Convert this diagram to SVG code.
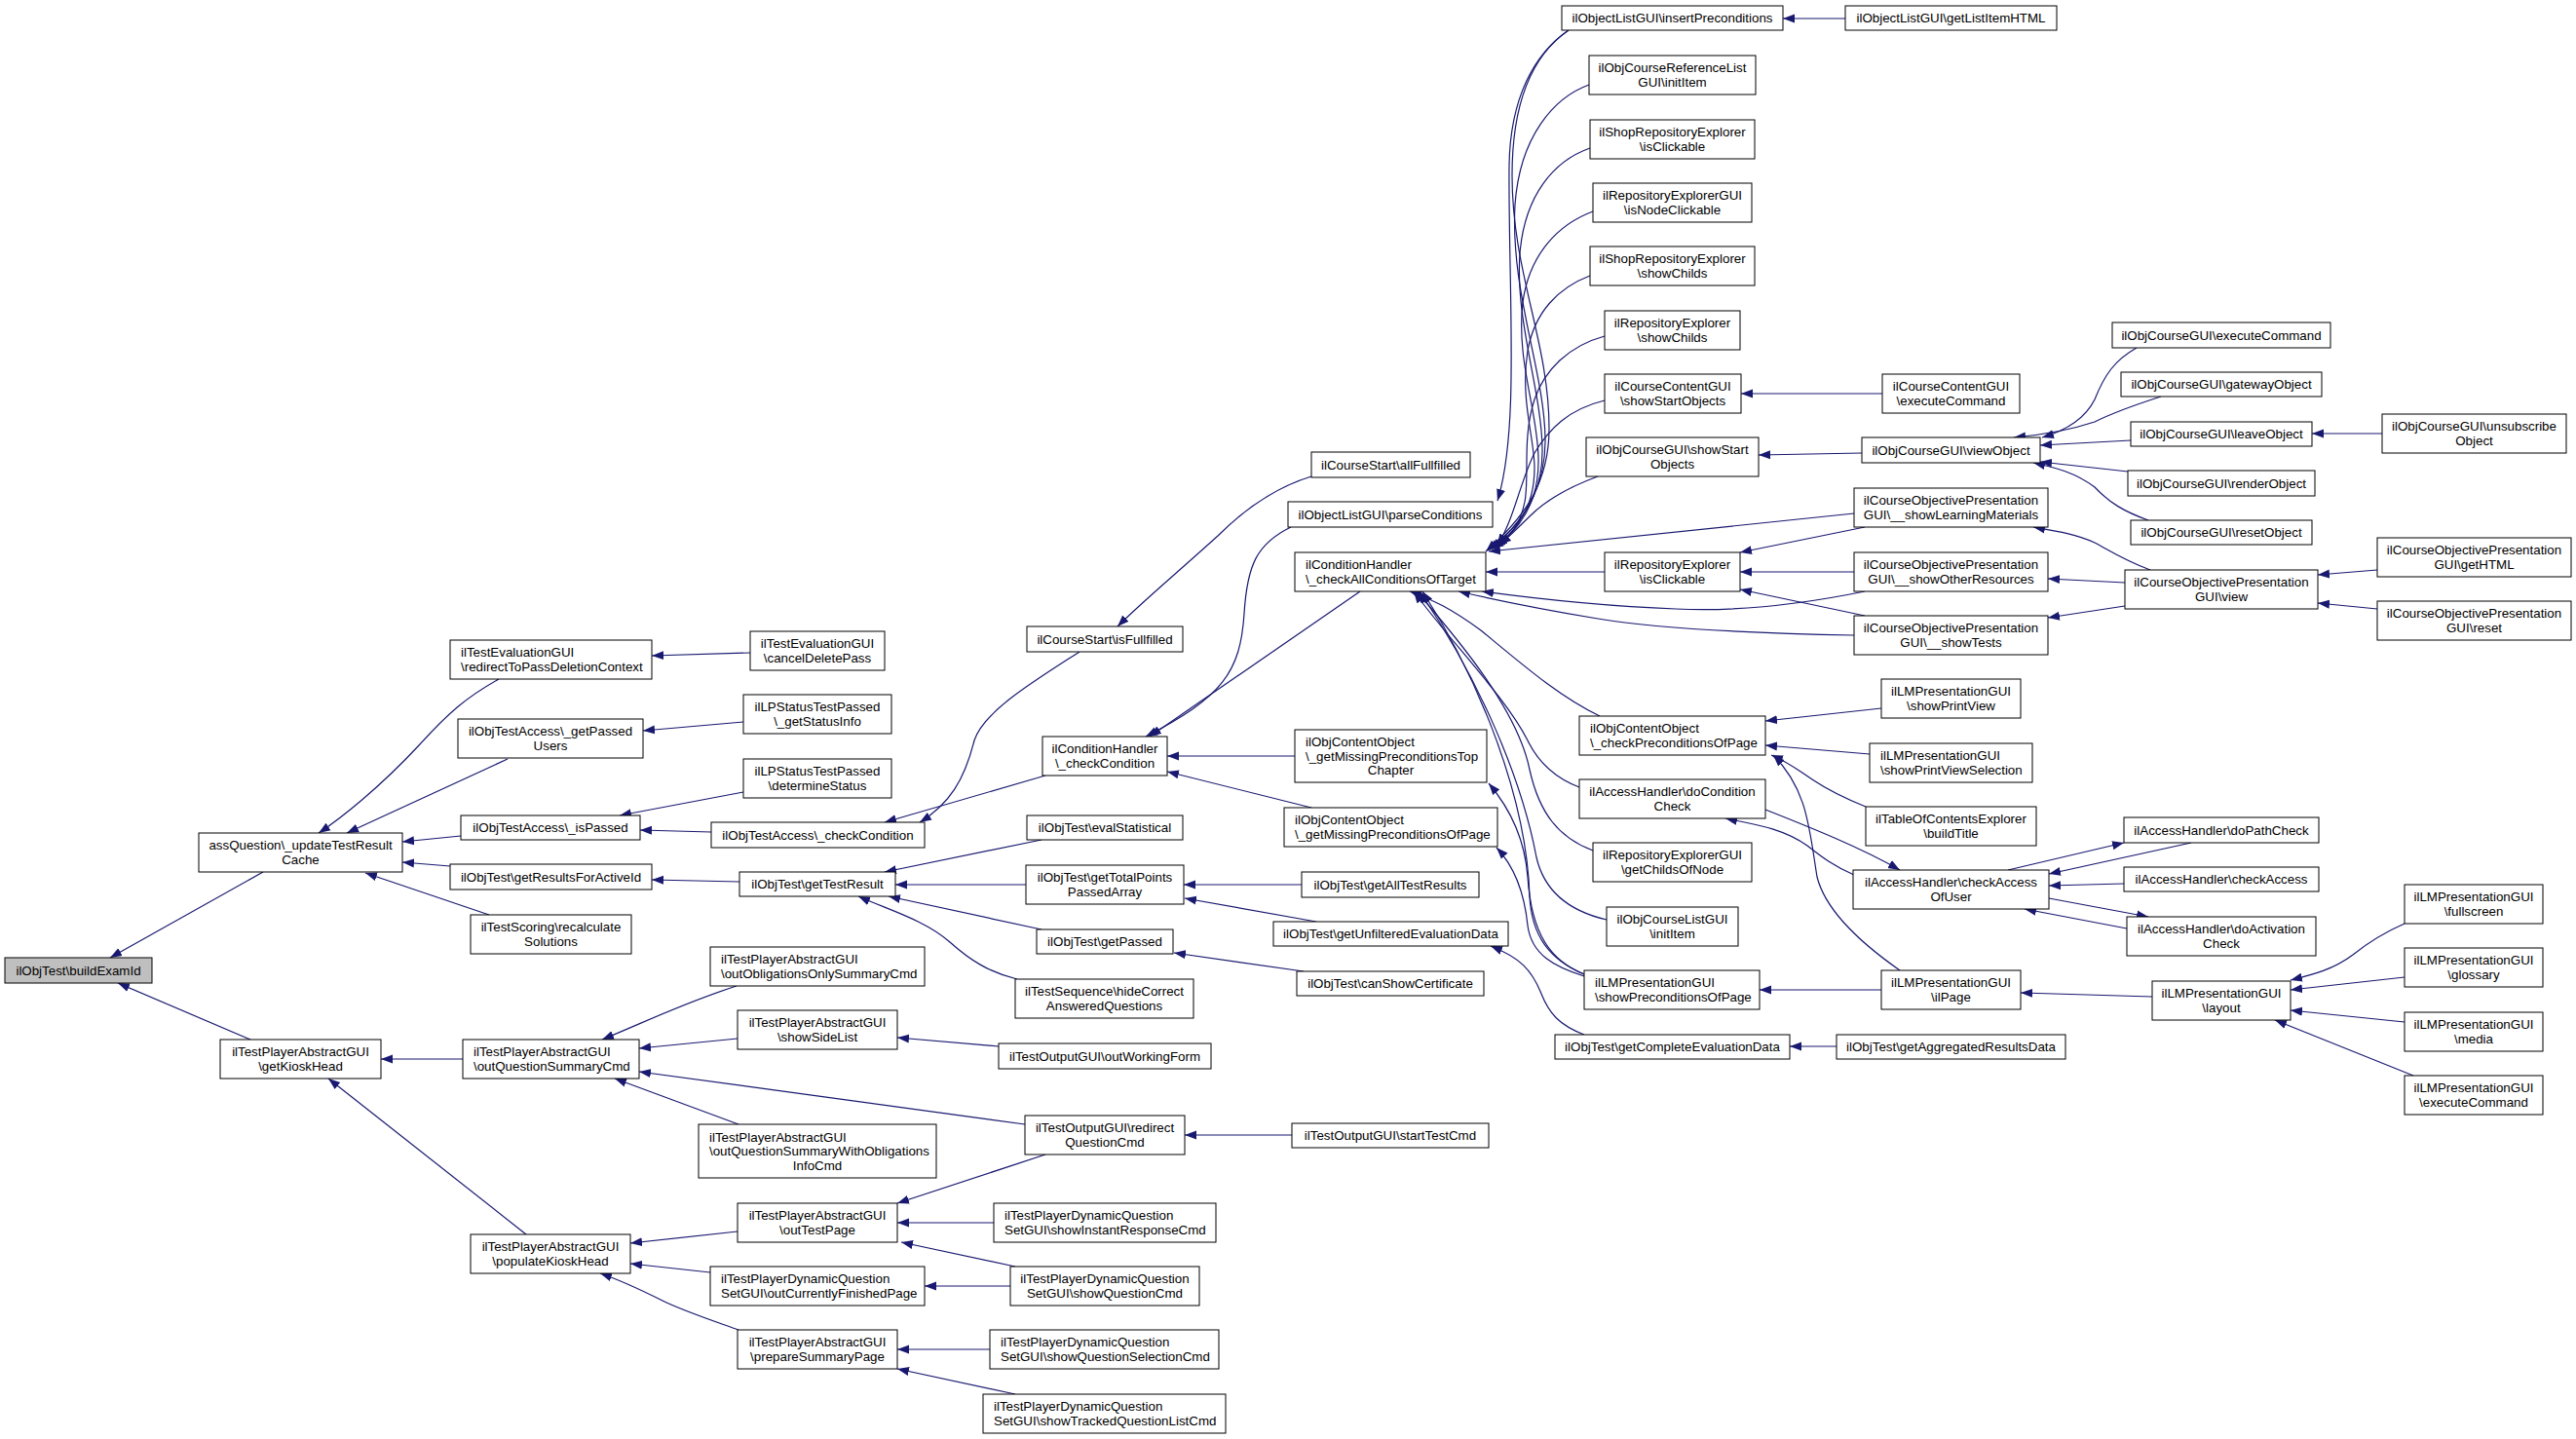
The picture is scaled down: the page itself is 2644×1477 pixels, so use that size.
<svg xmlns="http://www.w3.org/2000/svg" width="2644" height="1477" viewBox="0 0 2644 1477">
<style>
.node rect{fill:#fff;stroke:#000;stroke-width:1}
.root rect{fill:#bfbfbf}
text{font-family:"Liberation Sans",Arial,Helvetica,sans-serif;font-size:13.33px;fill:#000}
.c{text-anchor:middle}
#edges path{fill:none;stroke:#191970;stroke-width:1.2;marker-end:url(#ah)}
</style>
<defs>
<marker id="ah" markerUnits="userSpaceOnUse" markerWidth="12" markerHeight="10" refX="12" refY="5" orient="auto" viewBox="0 0 12 10"><path d="M0,0.5 L12,5 L0,9.5 z" fill="#191970"/></marker>
</defs>
<rect width="2644" height="1477" fill="#fff"/>
<g id="edges">
<path d="M270,895 L113,983"/>
<path d="M257,1067 L121,1009"/>
<path d="M512,697 C478,716 460,732 430,765 C390,808 350,840 327,855"/>
<path d="M521,779 L356,855"/>
<path d="M473,858 L413,864"/>
<path d="M462,889 L413,885"/>
<path d="M502,939 L375,896"/>
<path d="M475,1087 L391,1087"/>
<path d="M540,1267 L337,1107"/>
<path d="M770,670 L669,673"/>
<path d="M763,741 L660,750"/>
<path d="M763,813 L636,837"/>
<path d="M730,854 L657,852"/>
<path d="M759,905 L669,903"/>
<path d="M1108,669 C1060,700 1010,730 1000,760 C990,800 975,825 944,844"/>
<path d="M1073,796 L908,844"/>
<path d="M1346,489 C1310,500 1280,520 1250,550 C1200,595 1170,620 1147,643"/>
<path d="M1325,541 C1290,558 1280,580 1277,630 C1273,690 1255,715 1176,756"/>
<path d="M1396,607 L1180,756"/>
<path d="M1329,776 L1198,776"/>
<path d="M1346,829 L1198,792"/>
<path d="M1069,862 L908,895"/>
<path d="M1053,908 L919,908"/>
<path d="M1069,954 L912,920"/>
<path d="M1044,1005 C1015,998 995,985 975,967 C950,945 915,935 881,920"/>
<path d="M1336,908 L1215,908"/>
<path d="M1351,946 L1216,922"/>
<path d="M1338,997 L1205,978"/>
<path d="M1626,1062 C1600,1052 1590,1040 1582,1020 C1572,995 1560,983 1530,971"/>
<path d="M756,1012 C700,1030 660,1050 618,1067"/>
<path d="M757,1066 L656,1076"/>
<path d="M1052,1154 L656,1100"/>
<path d="M758,1154 L631,1107"/>
<path d="M1025,1074 L921,1065"/>
<path d="M1326,1165 L1216,1165"/>
<path d="M757,1264 L647,1276"/>
<path d="M729,1306 L647,1297"/>
<path d="M758,1365 C730,1355 700,1345 680,1335 C660,1325 640,1315 616,1307"/>
<path d="M1073,1185 L921,1235"/>
<path d="M1020,1255 L921,1255"/>
<path d="M1042,1300 L925,1275"/>
<path d="M1037,1320 L949,1320"/>
<path d="M1016,1385 L921,1385"/>
<path d="M1042,1431 L921,1405"/>
<path d="M1894,19 L1830,19"/>
<path d="M1610,31 C1575,55 1550,100 1549,170 C1548,300 1560,440 1537,514"/>
<path d="M1610,31 C1575,55 1552,100 1552,180 C1552,280 1590,350 1590,440 C1590,500 1560,535 1525,566"/>
<path d="M1631,87 C1595,100 1560,140 1555,210 C1550,300 1585,380 1586,450 C1587,505 1560,540 1527,565"/>
<path d="M1632,152 C1595,165 1565,200 1560,260 C1555,330 1582,400 1583,460 C1584,510 1560,540 1529,564"/>
<path d="M1635,217 C1600,230 1570,260 1563,310 C1556,370 1578,420 1579,470 C1580,515 1560,545 1531,563"/>
<path d="M1632,283 C1600,295 1575,320 1568,360 C1560,410 1575,450 1575,480 C1575,520 1558,545 1533,562"/>
<path d="M1647,345 C1610,355 1585,380 1575,410 C1562,450 1570,490 1565,515 C1560,540 1550,550 1535,561"/>
<path d="M1647,411 C1610,420 1590,440 1575,465 C1560,495 1555,530 1537,560"/>
<path d="M1640,489 C1610,500 1585,515 1570,530 C1558,542 1550,550 1539,559"/>
<path d="M1903,527 L1528,566"/>
<path d="M1647,587 L1525,587"/>
<path d="M1914,607 C1850,620 1780,628 1720,625 C1640,622 1580,615 1521,607"/>
<path d="M1903,652 C1800,650 1700,645 1640,635 C1580,625 1540,617 1497,607"/>
<path d="M1642,735 C1600,715 1560,680 1520,647 C1490,625 1470,615 1447,607"/>
<path d="M1621,808 C1600,800 1580,785 1568,760 C1545,715 1490,660 1451,607"/>
<path d="M1635,873 C1600,860 1580,835 1570,790 C1558,730 1500,660 1454,607"/>
<path d="M1649,944 C1610,935 1585,915 1577,880 C1562,800 1520,700 1457,607"/>
<path d="M1626,1000 C1590,985 1572,960 1570,920 C1567,820 1520,700 1460,607"/>
<path d="M1626,1000 C1592,986 1572,960 1568,900 C1565,860 1550,830 1528,804"/>
<path d="M1626,1002 C1595,992 1572,980 1568,950 C1565,920 1555,890 1536,870"/>
<path d="M1911,465 L1805,467"/>
<path d="M1932,404 L1787,404"/>
<path d="M2193,357 C2170,370 2160,385 2150,410 C2140,430 2120,442 2096,449"/>
<path d="M2218,407 C2190,416 2170,423 2150,433 C2120,443 2090,447 2067,449"/>
<path d="M2187,452 L2094,457"/>
<path d="M2184,484 L2094,474"/>
<path d="M2205,534 C2180,525 2165,516 2150,500 C2130,485 2110,480 2087,475"/>
<path d="M2445,445 L2373,445"/>
<path d="M2207,585 C2180,575 2165,565 2150,557 C2130,548 2110,545 2087,541"/>
<path d="M2181,598 L2102,594"/>
<path d="M2181,622 L2102,634"/>
<path d="M2440,585 L2379,590"/>
<path d="M2440,625 L2379,619"/>
<path d="M1914,541 L1786,567"/>
<path d="M1903,587 L1786,587"/>
<path d="M1914,632 L1786,605"/>
<path d="M1931,727 L1812,740"/>
<path d="M1919,774 L1812,765"/>
<path d="M1915,828 C1890,818 1875,810 1860,800 C1845,790 1835,782 1818,775"/>
<path d="M1950,996 C1920,975 1875,940 1865,900 C1857,850 1855,810 1820,775"/>
<path d="M1903,898 C1880,888 1868,878 1855,868 C1830,850 1800,846 1771,840"/>
<path d="M1812,831 C1860,850 1910,870 1950,893"/>
<path d="M2061,893 L2180,865"/>
<path d="M2249,865 L2103,897"/>
<path d="M2180,907 L2103,909"/>
<path d="M2103,922 L2205,941"/>
<path d="M2183,953 L2078,933"/>
<path d="M1931,1016 L1806,1016"/>
<path d="M1885,1074 L1837,1074"/>
<path d="M2209,1023 L2074,1019"/>
<path d="M2468,948 C2445,958 2430,968 2415,980 C2395,995 2375,1000 2351,1006"/>
<path d="M2468,1003 L2351,1016"/>
<path d="M2468,1049 L2351,1037"/>
<path d="M2477,1104 L2335,1047"/>
</g>
<g id="n1" class="node root"><rect x="5" y="983" width="151" height="26"/><text class="c" x="80.5" y="1000.7">ilObjTest\buildExamId</text></g>
<g id="n2" class="node"><rect x="204" y="855" width="209" height="40"/><text class="c" x="308.5" y="872.45">assQuestion\_updateTestResult</text><text class="c" x="308.5" y="886.95">Cache</text></g>
<g id="n3" class="node"><rect x="462" y="657" width="207" height="40"/><text x="473" y="674.45">ilTestEvaluationGUI</text><text x="473" y="688.95">\redirectToPassDeletionContext</text></g>
<g id="n4" class="node"><rect x="470" y="738" width="190" height="40"/><text class="c" x="565" y="755.45">ilObjTestAccess\_getPassed</text><text class="c" x="565" y="769.95">Users</text></g>
<g id="n5" class="node"><rect x="473" y="837" width="184" height="25"/><text class="c" x="565" y="854.2">ilObjTestAccess\_isPassed</text></g>
<g id="n6" class="node"><rect x="462" y="887" width="207" height="26"/><text class="c" x="565.5" y="904.7">ilObjTest\getResultsForActiveId</text></g>
<g id="n7" class="node"><rect x="483" y="939" width="165" height="40"/><text class="c" x="565.5" y="956.45">ilTestScoring\recalculate</text><text class="c" x="565.5" y="970.95">Solutions</text></g>
<g id="n8" class="node"><rect x="226" y="1067" width="165" height="40"/><text class="c" x="308.5" y="1084.45">ilTestPlayerAbstractGUI</text><text class="c" x="308.5" y="1098.95">\getKioskHead</text></g>
<g id="n9" class="node"><rect x="475" y="1067" width="181" height="40"/><text x="486" y="1084.45">ilTestPlayerAbstractGUI</text><text x="486" y="1098.95">\outQuestionSummaryCmd</text></g>
<g id="n10" class="node"><rect x="483" y="1267" width="164" height="40"/><text class="c" x="565" y="1284.45">ilTestPlayerAbstractGUI</text><text class="c" x="565" y="1298.95">\populateKioskHead</text></g>
<g id="n11" class="node"><rect x="770" y="648" width="138" height="40"/><text class="c" x="839" y="665.45">ilTestEvaluationGUI</text><text class="c" x="839" y="679.95">\cancelDeletePass</text></g>
<g id="n12" class="node"><rect x="763" y="713" width="152" height="40"/><text class="c" x="839" y="730.45">ilLPStatusTestPassed</text><text class="c" x="839" y="744.95">\_getStatusInfo</text></g>
<g id="n13" class="node"><rect x="763" y="779" width="152" height="40"/><text class="c" x="839" y="796.45">ilLPStatusTestPassed</text><text class="c" x="839" y="810.95">\determineStatus</text></g>
<g id="n14" class="node"><rect x="730" y="844" width="219" height="26"/><text class="c" x="839.5" y="861.7">ilObjTestAccess\_checkCondition</text></g>
<g id="n15" class="node"><rect x="759" y="895" width="160" height="25"/><text class="c" x="839" y="912.2">ilObjTest\getTestResult</text></g>
<g id="n16" class="node"><rect x="729" y="972" width="220" height="40"/><text x="740" y="989.45">ilTestPlayerAbstractGUI</text><text x="740" y="1003.95">\outObligationsOnlySummaryCmd</text></g>
<g id="n17" class="node"><rect x="1054" y="643" width="160" height="26"/><text class="c" x="1134" y="660.7">ilCourseStart\isFullfilled</text></g>
<g id="n18" class="node"><rect x="1070" y="756" width="128" height="40"/><text class="c" x="1134" y="773.45">ilConditionHandler</text><text class="c" x="1134" y="787.95">\_checkCondition</text></g>
<g id="n19" class="node"><rect x="1054" y="837" width="160" height="25"/><text class="c" x="1134" y="854.2">ilObjTest\evalStatistical</text></g>
<g id="n20" class="node"><rect x="1053" y="888" width="162" height="40"/><text class="c" x="1134" y="905.45">ilObjTest\getTotalPoints</text><text class="c" x="1134" y="919.95">PassedArray</text></g>
<g id="n21" class="node"><rect x="1064" y="954" width="140" height="25"/><text class="c" x="1134" y="971.2">ilObjTest\getPassed</text></g>
<g id="n22" class="node"><rect x="1042" y="1005" width="183" height="40"/><text class="c" x="1133.5" y="1022.45">ilTestSequence\hideCorrect</text><text class="c" x="1133.5" y="1036.95">AnsweredQuestions</text></g>
<g id="n23" class="node"><rect x="757" y="1037" width="164" height="40"/><text class="c" x="839" y="1054.45">ilTestPlayerAbstractGUI</text><text class="c" x="839" y="1068.95">\showSideList</text></g>
<g id="n24" class="node"><rect x="1025" y="1071" width="218" height="26"/><text class="c" x="1134" y="1088.7">ilTestOutputGUI\outWorkingForm</text></g>
<g id="n25" class="node"><rect x="717" y="1154" width="244" height="55"/><text x="728" y="1171.7">ilTestPlayerAbstractGUI</text><text x="728" y="1186.2">\outQuestionSummaryWithObligations</text><text class="c" x="839" y="1200.7">InfoCmd</text></g>
<g id="n26" class="node"><rect x="1052" y="1145" width="164" height="40"/><text class="c" x="1134" y="1162.45">ilTestOutputGUI\redirect</text><text class="c" x="1134" y="1176.95">QuestionCmd</text></g>
<g id="n27" class="node"><rect x="757" y="1235" width="164" height="40"/><text class="c" x="839" y="1252.45">ilTestPlayerAbstractGUI</text><text class="c" x="839" y="1266.95">\outTestPage</text></g>
<g id="n28" class="node"><rect x="1020" y="1235" width="228" height="40"/><text x="1031" y="1252.45">ilTestPlayerDynamicQuestion</text><text x="1031" y="1266.95">SetGUI\showInstantResponseCmd</text></g>
<g id="n29" class="node"><rect x="729" y="1300" width="220" height="40"/><text x="740" y="1317.45">ilTestPlayerDynamicQuestion</text><text x="740" y="1331.95">SetGUI\outCurrentlyFinishedPage</text></g>
<g id="n30" class="node"><rect x="1037" y="1300" width="194" height="40"/><text class="c" x="1134" y="1317.45">ilTestPlayerDynamicQuestion</text><text class="c" x="1134" y="1331.95">SetGUI\showQuestionCmd</text></g>
<g id="n31" class="node"><rect x="757" y="1365" width="164" height="40"/><text class="c" x="839" y="1382.45">ilTestPlayerAbstractGUI</text><text class="c" x="839" y="1396.95">\prepareSummaryPage</text></g>
<g id="n32" class="node"><rect x="1016" y="1365" width="235" height="40"/><text x="1027" y="1382.45">ilTestPlayerDynamicQuestion</text><text x="1027" y="1396.95">SetGUI\showQuestionSelectionCmd</text></g>
<g id="n33" class="node"><rect x="1009" y="1431" width="249" height="40"/><text x="1020" y="1448.45">ilTestPlayerDynamicQuestion</text><text x="1020" y="1462.95">SetGUI\showTrackedQuestionListCmd</text></g>
<g id="n34" class="node"><rect x="1603" y="6" width="227" height="25"/><text class="c" x="1716.5" y="23.2">ilObjectListGUI\insertPreconditions</text></g>
<g id="n35" class="node"><rect x="1894" y="6" width="217" height="25"/><text class="c" x="2002.5" y="23.2">ilObjectListGUI\getListItemHTML</text></g>
<g id="n36" class="node"><rect x="1631" y="57" width="171" height="40"/><text class="c" x="1716.5" y="74.45">ilObjCourseReferenceList</text><text class="c" x="1716.5" y="88.95">GUI\initItem</text></g>
<g id="n37" class="node"><rect x="1632" y="123" width="169" height="40"/><text class="c" x="1716.5" y="140.45">ilShopRepositoryExplorer</text><text class="c" x="1716.5" y="154.95">\isClickable</text></g>
<g id="n38" class="node"><rect x="1635" y="188" width="163" height="40"/><text class="c" x="1716.5" y="205.45">ilRepositoryExplorerGUI</text><text class="c" x="1716.5" y="219.95">\isNodeClickable</text></g>
<g id="n39" class="node"><rect x="1632" y="253" width="169" height="40"/><text class="c" x="1716.5" y="270.45">ilShopRepositoryExplorer</text><text class="c" x="1716.5" y="284.95">\showChilds</text></g>
<g id="n40" class="node"><rect x="1647" y="319" width="139" height="40"/><text class="c" x="1716.5" y="336.45">ilRepositoryExplorer</text><text class="c" x="1716.5" y="350.95">\showChilds</text></g>
<g id="n41" class="node"><rect x="1647" y="384" width="140" height="40"/><text class="c" x="1717" y="401.45">ilCourseContentGUI</text><text class="c" x="1717" y="415.95">\showStartObjects</text></g>
<g id="n42" class="node"><rect x="1628" y="449" width="177" height="40"/><text class="c" x="1716.5" y="466.45">ilObjCourseGUI\showStart</text><text class="c" x="1716.5" y="480.95">Objects</text></g>
<g id="n43" class="node"><rect x="1346" y="464" width="163" height="26"/><text class="c" x="1427.5" y="481.7">ilCourseStart\allFullfilled</text></g>
<g id="n44" class="node"><rect x="1932" y="384" width="141" height="40"/><text class="c" x="2002.5" y="401.45">ilCourseContentGUI</text><text class="c" x="2002.5" y="415.95">\executeCommand</text></g>
<g id="n45" class="node"><rect x="1911" y="449" width="183" height="26"/><text class="c" x="2002.5" y="466.7">ilObjCourseGUI\viewObject</text></g>
<g id="n46" class="node"><rect x="1322" y="515" width="210" height="26"/><text class="c" x="1427" y="532.7">ilObjectListGUI\parseConditions</text></g>
<g id="n47" class="node"><rect x="1329" y="567" width="196" height="40"/><text x="1340" y="584.45">ilConditionHandler</text><text x="1340" y="598.95">\_checkAllConditionsOfTarget</text></g>
<g id="n48" class="node"><rect x="1647" y="567" width="139" height="40"/><text class="c" x="1716.5" y="584.45">ilRepositoryExplorer</text><text class="c" x="1716.5" y="598.95">\isClickable</text></g>
<g id="n49" class="node"><rect x="1903" y="501" width="199" height="40"/><text class="c" x="2002.5" y="518.45">ilCourseObjectivePresentation</text><text class="c" x="2002.5" y="532.95">GUI\__showLearningMaterials</text></g>
<g id="n50" class="node"><rect x="1903" y="567" width="199" height="40"/><text class="c" x="2002.5" y="584.45">ilCourseObjectivePresentation</text><text class="c" x="2002.5" y="598.95">GUI\__showOtherResources</text></g>
<g id="n51" class="node"><rect x="1903" y="632" width="199" height="40"/><text class="c" x="2002.5" y="649.45">ilCourseObjectivePresentation</text><text class="c" x="2002.5" y="663.95">GUI\__showTests</text></g>
<g id="n52" class="node"><rect x="1931" y="697" width="143" height="40"/><text class="c" x="2002.5" y="714.45">ilLMPresentationGUI</text><text class="c" x="2002.5" y="728.95">\showPrintView</text></g>
<g id="n53" class="node"><rect x="1919" y="763" width="167" height="40"/><text x="1930" y="780.45">ilLMPresentationGUI</text><text x="1930" y="794.95">\showPrintViewSelection</text></g>
<g id="n54" class="node"><rect x="1915" y="828" width="175" height="40"/><text class="c" x="2002.5" y="845.45">ilTableOfContentsExplorer</text><text class="c" x="2002.5" y="859.95">\buildTitle</text></g>
<g id="n55" class="node"><rect x="1902" y="893" width="201" height="40"/><text class="c" x="2002.5" y="910.45">ilAccessHandler\checkAccess</text><text class="c" x="2002.5" y="924.95">OfUser</text></g>
<g id="n56" class="node"><rect x="1621" y="735" width="191" height="40"/><text x="1632" y="752.45">ilObjContentObject</text><text x="1632" y="766.95">\_checkPreconditionsOfPage</text></g>
<g id="n57" class="node"><rect x="1621" y="800" width="191" height="40"/><text class="c" x="1716.5" y="817.45">ilAccessHandler\doCondition</text><text class="c" x="1716.5" y="831.95">Check</text></g>
<g id="n58" class="node"><rect x="1635" y="865" width="163" height="40"/><text class="c" x="1716.5" y="882.45">ilRepositoryExplorerGUI</text><text class="c" x="1716.5" y="896.95">\getChildsOfNode</text></g>
<g id="n59" class="node"><rect x="1649" y="931" width="135" height="40"/><text class="c" x="1716.5" y="948.45">ilObjCourseListGUI</text><text class="c" x="1716.5" y="962.95">\initItem</text></g>
<g id="n60" class="node"><rect x="1329" y="749" width="197" height="54"/><text x="1340" y="766.2">ilObjContentObject</text><text x="1340" y="780.7">\_getMissingPreconditionsTop</text><text class="c" x="1427.5" y="795.2">Chapter</text></g>
<g id="n61" class="node"><rect x="1318" y="829" width="219" height="40"/><text x="1329" y="846.45">ilObjContentObject</text><text x="1329" y="860.95">\_getMissingPreconditionsOfPage</text></g>
<g id="n62" class="node"><rect x="1336" y="895" width="182" height="26"/><text class="c" x="1427" y="912.7">ilObjTest\getAllTestResults</text></g>
<g id="n63" class="node"><rect x="1307" y="946" width="241" height="25"/><text class="c" x="1427.5" y="963.2">ilObjTest\getUnfilteredEvaluationData</text></g>
<g id="n64" class="node"><rect x="1331" y="997" width="192" height="25"/><text class="c" x="1427" y="1014.2">ilObjTest\canShowCertificate</text></g>
<g id="n65" class="node"><rect x="1626" y="996" width="180" height="40"/><text x="1637" y="1013.45">ilLMPresentationGUI</text><text x="1637" y="1027.95">\showPreconditionsOfPage</text></g>
<g id="n66" class="node"><rect x="1596" y="1062" width="241" height="25"/><text class="c" x="1716.5" y="1079.2">ilObjTest\getCompleteEvaluationData</text></g>
<g id="n67" class="node"><rect x="1885" y="1062" width="235" height="25"/><text class="c" x="2002.5" y="1079.2">ilObjTest\getAggregatedResultsData</text></g>
<g id="n68" class="node"><rect x="1326" y="1153" width="202" height="25"/><text class="c" x="1427" y="1170.2">ilTestOutputGUI\startTestCmd</text></g>
<g id="n69" class="node"><rect x="1931" y="996" width="143" height="40"/><text class="c" x="2002.5" y="1013.45">ilLMPresentationGUI</text><text class="c" x="2002.5" y="1027.95">\ilPage</text></g>
<g id="n70" class="node"><rect x="2168" y="331" width="224" height="26"/><text class="c" x="2280" y="348.7">ilObjCourseGUI\executeCommand</text></g>
<g id="n71" class="node"><rect x="2177" y="382" width="206" height="25"/><text class="c" x="2280" y="399.2">ilObjCourseGUI\gatewayObject</text></g>
<g id="n72" class="node"><rect x="2187" y="433" width="186" height="25"/><text class="c" x="2280" y="450.2">ilObjCourseGUI\leaveObject</text></g>
<g id="n73" class="node"><rect x="2445" y="425" width="189" height="40"/><text class="c" x="2539.5" y="442.45">ilObjCourseGUI\unsubscribe</text><text class="c" x="2539.5" y="456.95">Object</text></g>
<g id="n74" class="node"><rect x="2184" y="483" width="192" height="26"/><text class="c" x="2280" y="500.7">ilObjCourseGUI\renderObject</text></g>
<g id="n75" class="node"><rect x="2187" y="534" width="186" height="25"/><text class="c" x="2280" y="551.2">ilObjCourseGUI\resetObject</text></g>
<g id="n76" class="node"><rect x="2181" y="585" width="198" height="40"/><text class="c" x="2280" y="602.45">ilCourseObjectivePresentation</text><text class="c" x="2280" y="616.95">GUI\view</text></g>
<g id="n77" class="node"><rect x="2440" y="552" width="199" height="40"/><text class="c" x="2539.5" y="569.45">ilCourseObjectivePresentation</text><text class="c" x="2539.5" y="583.95">GUI\getHTML</text></g>
<g id="n78" class="node"><rect x="2440" y="617" width="199" height="40"/><text class="c" x="2539.5" y="634.45">ilCourseObjectivePresentation</text><text class="c" x="2539.5" y="648.95">GUI\reset</text></g>
<g id="n79" class="node"><rect x="2180" y="839" width="200" height="26"/><text class="c" x="2280" y="856.7">ilAccessHandler\doPathCheck</text></g>
<g id="n80" class="node"><rect x="2180" y="890" width="200" height="25"/><text class="c" x="2280" y="907.2">ilAccessHandler\checkAccess</text></g>
<g id="n81" class="node"><rect x="2183" y="941" width="194" height="40"/><text class="c" x="2280" y="958.45">ilAccessHandler\doActivation</text><text class="c" x="2280" y="972.95">Check</text></g>
<g id="n82" class="node"><rect x="2209" y="1007" width="142" height="40"/><text class="c" x="2280" y="1024.45">ilLMPresentationGUI</text><text class="c" x="2280" y="1038.95">\layout</text></g>
<g id="n83" class="node"><rect x="2468" y="908" width="142" height="40"/><text class="c" x="2539" y="925.45">ilLMPresentationGUI</text><text class="c" x="2539" y="939.95">\fullscreen</text></g>
<g id="n84" class="node"><rect x="2468" y="973" width="142" height="40"/><text class="c" x="2539" y="990.45">ilLMPresentationGUI</text><text class="c" x="2539" y="1004.95">\glossary</text></g>
<g id="n85" class="node"><rect x="2468" y="1039" width="142" height="40"/><text class="c" x="2539" y="1056.45">ilLMPresentationGUI</text><text class="c" x="2539" y="1070.95">\media</text></g>
<g id="n86" class="node"><rect x="2468" y="1104" width="142" height="40"/><text class="c" x="2539" y="1121.45">ilLMPresentationGUI</text><text class="c" x="2539" y="1135.95">\executeCommand</text></g>
</svg>
